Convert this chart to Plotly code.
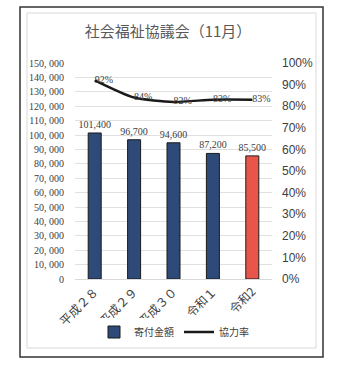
import plotly.graph_objects as go

categories = ["平成２８", "平成２９", "平成３０", "令和１", "令和2"]
donations = [101400, 96700, 94600, 87200, 85500]
rates = [0.92, 0.84, 0.82, 0.83, 0.83]
bar_colors = ["#2E4A78", "#2E4A78", "#2E4A78", "#2E4A78", "#E8564B"]
left_ticks = list(range(0, 150001, 10000))
left_tick_text = [f"{v:,}".replace(",", ", ") for v in left_ticks]

W, H = 348, 366
L, R, T, B = 75, 272, 63, 279

def px(x):
    return (x - L) / (R - L)

def py(y):
    return (B - y) / (B - T)

fig = go.Figure()
fig.add_trace(go.Bar(
    x=categories, y=donations, name="寄付金額",
    marker=dict(color=bar_colors, line=dict(color="#1a1a1a", width=1)),
    width=0.33,
    text=[f"{v:,}" for v in donations], textposition="outside",
    constraintext="none",
    textfont=dict(family="Liberation Serif", size=10, color="#404040"),
    cliponaxis=False,
))
fig.add_trace(go.Scatter(
    x=categories, y=rates, name="協力率", yaxis="y2",
    mode="lines+text", line=dict(color="#1a1a1a", width=2.5, shape="spline", smoothing=0.6),
    text=[f"{round(v*100)}%" for v in rates], textposition="middle right",
    textfont=dict(family="Liberation Serif", size=10, color="#404040"),
    cliponaxis=False,
))

fig.update_layout(
    width=W, height=H,
    margin=dict(l=L, r=W - R, t=T, b=H - B),
    paper_bgcolor="white", plot_bgcolor="white",
    title=dict(text="社会福祉協議会（11月）", x=168 / W, xanchor="center",
               y=1 - 32 / H, yanchor="middle",
               font=dict(family="Noto Sans CJK JP", size=15, color="#595959")),
    bargap=0.5,
    xaxis=dict(tickangle=-45, tickfont=dict(family="Noto Sans CJK JP", size=12, color="#404040"),
               showline=True, linecolor="#d9d9d9", ticks=""),
    yaxis=dict(range=[0, 150000], tickvals=left_ticks, ticktext=left_tick_text,
               tickfont=dict(family="Liberation Serif", size=10, color="#404040"),
               ticklabelstandoff=10,
               showgrid=True, gridcolor="#e0e0e0", zeroline=False),
    yaxis2=dict(range=[0, 1], overlaying="y", side="right", tickformat=".0%", dtick=0.1,
                tickfont=dict(family="Liberation Sans", size=12, color="#404040"),
                ticklabelstandoff=9,
                showgrid=False, zeroline=False),
    legend=dict(orientation="h", x=px(174), xanchor="center", y=py(332), yanchor="middle",
                font=dict(family="Noto Sans CJK JP", size=10, color="#404040"),
                itemwidth=30),
    showlegend=True,
    shapes=[
        dict(type="rect", xref="paper", yref="paper", x0=px(20), x1=px(323), y0=py(357), y1=py(7),
             line=dict(color="#333333", width=1.5), layer="below"),
        dict(type="rect", xref="paper", yref="paper", x0=px(27), x1=px(316), y0=py(348), y1=py(13),
             line=dict(color="#d9d9d9", width=1), layer="below"),
    ],
)

fig.write_html("out.html")
